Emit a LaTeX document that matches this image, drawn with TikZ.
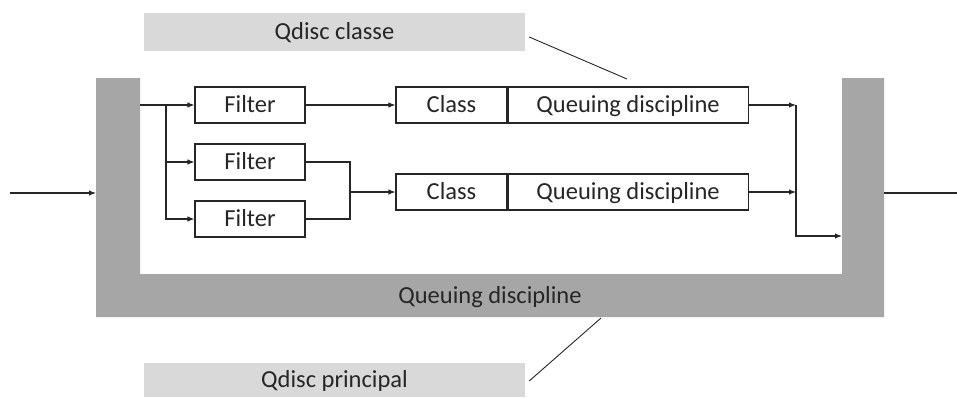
\documentclass[tikz,border=0pt]{standalone}
\usepackage{fontspec}
\setmainfont{Carlito}
\usetikzlibrary{arrows.meta}
\definecolor{barfill}{HTML}{A6A6A6}
\definecolor{tagfill}{HTML}{D9D9D9}
\definecolor{ink}{HTML}{262626}
\tikzset{
  txt/.style={font=\fontsize{24.5}{28}\selectfont, text=ink, inner sep=0pt,
    text height=15.5pt, text depth=0pt},
  box/.style={txt, draw=ink, line width=1.1pt, fill=white, minimum height=36pt},
  filterbox/.style={box, minimum width=110pt},
  classbox/.style={box, minimum width=111pt},
  qdbox/.style={box, minimum width=240pt},
  tag/.style={txt, fill=tagfill, minimum width=381pt},
  wire/.style={draw=ink, line width=1.1pt},
  arr/.style={wire, -{Latex[length=7pt,width=5.5pt]}},
  pointer/.style={draw=ink, line width=0.9pt}
}
\begin{document}
\begin{tikzpicture}[x=1pt,y=-1pt]
\useasboundingbox (0,0) rectangle (957,397);

% outer queuing discipline (U-shaped bar)
\fill[barfill] (96,78) -- (140,78) -- (140,274) -- (842,274) -- (842,78)
  -- (884,78) -- (884,317) -- (96,317) -- cycle;
\node[txt] (mainqd) at (490,296) {Queuing discipline};

% labels
\node[tag, minimum height=38pt] (tagclass) at (334.5,32) {Qdisc classe};
\node[tag, minimum height=34pt] (tagmain) at (334.5,380) {Qdisc principal};
\coordinate (classtip) at (627,79);
\coordinate (maintip) at (601,318);
\draw[pointer] (tagclass.east) ++(4,5) -- (classtip);
\draw[pointer] (tagmain.east) ++(4,1) -- (maintip);

% filters
\node[filterbox] (f1) at (250,105) {Filter};
\node[filterbox] (f2) at (250,162) {Filter};
\node[filterbox] (f3) at (250,219) {Filter};

% classes with their queuing disciplines
\node[classbox] (c1) at (451.5,105) {Class};
\node[qdbox, anchor=west] (q1) at (c1.east) {Queuing discipline};
\node[classbox] (c2) at (451.5,192) {Class};
\node[qdbox, anchor=west] (q2) at (c2.east) {Queuing discipline};

% entry and exit points on the bar
\coordinate (inL) at (10,193);
\coordinate (inbar) at (96,193);
\coordinate (barout) at (140,105);
\coordinate (split) at (166,105);
\coordinate (merge) at (350,192);
\coordinate (gather) at (796,105);
\coordinate (barin) at (842,236);
\coordinate (outbar) at (884,193);
\coordinate (outR) at (957,193);

% input and output
\draw[arr] (inL) -- (inbar);
\draw[wire] (outbar) -- (outR);

% fan-out to the filters
\draw[wire] (barout) -- (split);
\draw[arr] (split) -- (f1.west);
\draw[arr] (split) |- (f2.west);
\draw[arr] (split) |- (f3.west);

% filters to classes
\draw[arr] (f1.east) -- (c1.west);
\draw[wire] (f2.east) -| (merge);
\draw[wire] (f3.east) -| (merge);
\draw[arr] (merge) -- (c2.west);

% classes back to the bar
\draw[arr] (q1.east) -- (gather);
\draw[arr] (q2.east) -- (gather |- q2.east);
\draw[arr] (gather) |- (barin);
\end{tikzpicture}
\end{document}
